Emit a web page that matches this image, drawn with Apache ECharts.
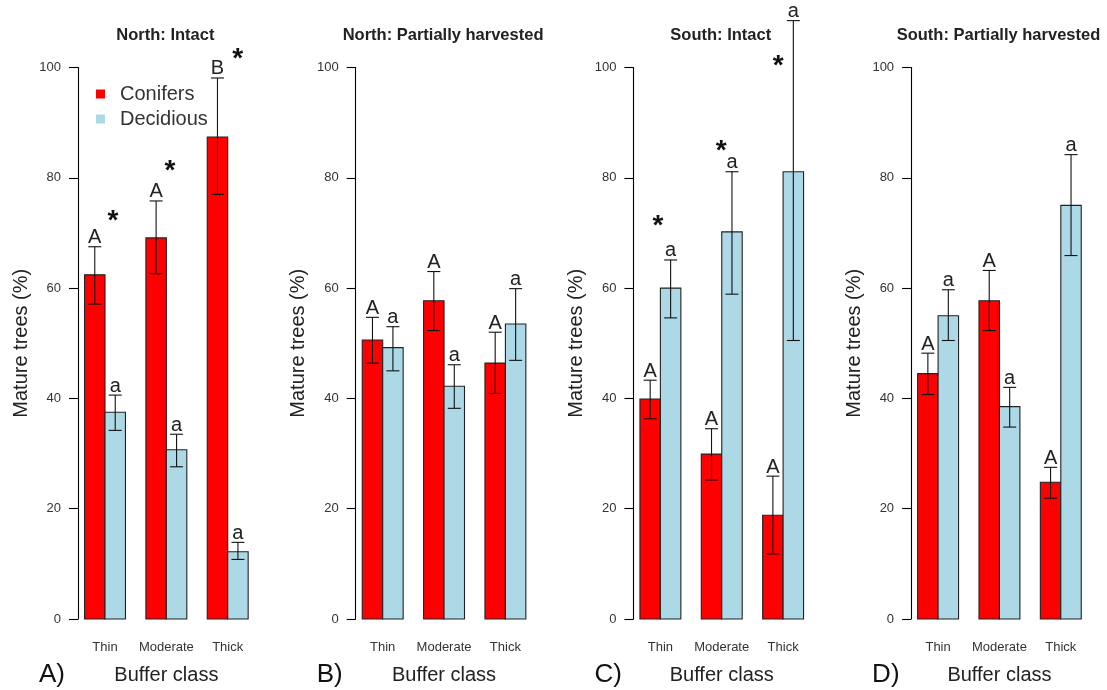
<!DOCTYPE html>
<html>
<head>
<meta charset="utf-8">
<script src="https://cdn.jsdelivr.net/npm/echarts@6/dist/echarts.min.js"></script>
<style>html,body{margin:0;padding:0;background:#fff}#c{width:1107px;height:690px}</style>
</head>
<body>
<div id="c"></div>
<script>
// ---------- data ----------
const categories = ['Thin', 'Moderate', 'Thick'];
const panelTitles = ['North: Intact', 'North: Partially harvested', 'South: Intact', 'South: Partially harvested'];
const panelLetters = ['A)', 'B)', 'C)', 'D)'];
const seriesNames = ['Conifers', 'Decidious'];
const yTicks = [0, 20, 40, 60, 80, 100];

// means
const northIntactConifers   = [62.4, 69.1, 87.4];
const northIntactDeciduous  = [37.5, 30.7, 12.2];
const northHarvConifers     = [50.6, 57.7, 46.4];
const northHarvDeciduous    = [49.2, 42.2, 53.5];
const southIntactConifers   = [39.9, 29.9, 18.8];
const southIntactDeciduous  = [60.0, 70.2, 81.1];
const southHarvConifers     = [44.5, 57.7, 24.8];
const southHarvDeciduous    = [55.0, 38.5, 75.0];

// error bar bounds (lower, upper)
const northIntactConifersLo  = [57.1, 62.6, 77.0];
const northIntactConifersHi  = [67.5, 75.8, 98.1];
const northIntactDeciduousLo = [34.2, 27.6, 10.8];
const northIntactDeciduousHi = [40.6, 33.5, 13.9];
const northHarvConifersLo    = [46.4, 52.3, 40.9];
const northHarvConifersHi    = [54.7, 63.0, 52.0];
const northHarvDeciduousLo   = [45.0, 38.2, 46.9];
const northHarvDeciduousHi   = [53.0, 46.1, 59.9];
const southIntactConifersLo  = [36.3, 25.2, 11.8];
const southIntactConifersHi  = [43.3, 34.5, 25.9];
const southIntactDeciduousLo = [54.6, 58.9, 50.5];
const southIntactDeciduousHi = [65.1, 81.1, 108.5];
const southHarvConifersLo    = [40.7, 52.3, 21.9];
const southHarvConifersHi    = [48.2, 63.2, 27.5];
const southHarvDeciduousLo   = [50.5, 34.8, 65.9];
const southHarvDeciduousHi   = [59.7, 42.0, 84.2];

// significance letters
const northIntactConiferLetters = ['A', 'A', 'B'];
const otherConiferLetters       = ['A', 'A', 'A'];
const deciduousLetters          = ['a', 'a', 'a'];

// asterisk annotations (data coordinates: bar-unit x, value y)
const northIntactAsterisks = [[2.39, 73.2], [5.18, 82.2], [8.49, 102.5]];
const southIntactAsterisks = [[1.88, 72.3], [4.97, 85.9], [7.76, 101.3]];

// ---------- assembly ----------
const panels = [
  { con: northIntactConifers, conLo: northIntactConifersLo, conHi: northIntactConifersHi, conL: northIntactConiferLetters,
    dec: northIntactDeciduous, decLo: northIntactDeciduousLo, decHi: northIntactDeciduousHi, ast: northIntactAsterisks },
  { con: northHarvConifers, conLo: northHarvConifersLo, conHi: northHarvConifersHi, conL: otherConiferLetters,
    dec: northHarvDeciduous, decLo: northHarvDeciduousLo, decHi: northHarvDeciduousHi, ast: [] },
  { con: southIntactConifers, conLo: southIntactConifersLo, conHi: southIntactConifersHi, conL: otherConiferLetters,
    dec: southIntactDeciduous, decLo: southIntactDeciduousLo, decHi: southIntactDeciduousHi, ast: southIntactAsterisks },
  { con: southHarvConifers, conLo: southHarvConifersLo, conHi: southHarvConifersHi, conL: otherConiferLetters,
    dec: southHarvDeciduous, decLo: southHarvDeciduousLo, decHi: southHarvDeciduousHi, ast: [] }
];

const FONT = "'Liberation Sans', Arial, Helvetica, sans-serif";
const COLORS = ['#FF0000', '#ADD8E6'];
const GRID_LEFT0 = 78, GRID_STEP = 277.7, GRID_W = 176.7, GRID_TOP = 67.5, GRID_H = 553;
const groupCenter = i => 2 + 3 * i;

function barRenderer(letters) {
  return function (params, api) {
    const x = api.value(0), m = api.value(1), lo = api.value(2), hi = api.value(3);
    const p0 = api.coord([x - 0.5, m]);
    const p1 = api.coord([x + 0.5, 0]);
    const t = api.coord([x, hi]);
    const b = api.coord([x, lo]);
    const cap = 6.5;
    const ls = { stroke: '#111', lineWidth: 1.1 };
    return {
      type: 'group',
      children: [
        { type: 'rect', shape: { x: p0[0], y: p0[1], width: p1[0] - p0[0], height: p1[1] - p0[1] },
          style: { fill: api.visual('color'), stroke: '#222', lineWidth: 1.1 } },
        { type: 'line', shape: { x1: t[0], y1: t[1], x2: b[0], y2: b[1] }, style: ls },
        { type: 'line', shape: { x1: t[0] - cap, y1: t[1], x2: t[0] + cap, y2: t[1] }, style: ls },
        { type: 'line', shape: { x1: b[0] - cap, y1: b[1], x2: b[0] + cap, y2: b[1] }, style: ls },
        { type: 'text', x: t[0], y: t[1] + 1,
          style: { text: letters[params.dataIndex], fontSize: 20, fontFamily: FONT, fill: '#222',
                   align: 'center', verticalAlign: 'bottom' } }
      ]
    };
  };
}

function asteriskRenderer(params, api) {
  const p = api.coord([api.value(0), api.value(1)]);
  return { type: 'text', x: p[0], y: p[1] + 6,
    style: { text: '*', fontSize: 28, fontWeight: 'bold', fontFamily: FONT, fill: '#111',
             align: 'center', verticalAlign: 'middle' } };
}

const grids = [], xAxes = [], yAxes = [], series = [], graphics = [];
panels.forEach((p, i) => {
  const left = GRID_LEFT0 + i * GRID_STEP;
  grids.push({ left: left, top: GRID_TOP, width: GRID_W, height: GRID_H, containLabel: false });
  xAxes.push({
    gridIndex: i, type: 'value', min: 0.68, max: 9.32,
    axisLine: { show: false }, axisTick: { show: false }, splitLine: { show: false },
    axisLabel: { customValues: categories.map((c, k) => groupCenter(k)),
      formatter: v => categories[Math.round((v - 2) / 3)], margin: 22, fontSize: 13, color: '#333', fontFamily: FONT },
    name: 'Buffer class', nameLocation: 'middle', nameGap: 46,
    nameTextStyle: { fontSize: 20, color: '#222', fontFamily: FONT }
  });
  yAxes.push({
    gridIndex: i, type: 'value', min: 0, max: 100, interval: 20,
    axisLine: { show: true, lineStyle: { color: '#000', width: 1.1 } },
    axisTick: { show: true, length: 9, lineStyle: { color: '#000', width: 1.1 } },
    axisLabel: { fontSize: 13, color: '#333', margin: 17, fontFamily: FONT },
    splitLine: { show: false },
    name: 'Mature trees (%)', nameLocation: 'middle', nameGap: 47,
    nameTextStyle: { fontSize: 20, color: '#222', fontFamily: FONT }
  });
  const groups = [
    { vals: p.con, lo: p.conLo, hi: p.conHi, letters: p.conL, off: -0.5 },
    { vals: p.dec, lo: p.decLo, hi: p.decHi, letters: deciduousLetters, off: 0.5 }
  ];
  groups.forEach((g, s) => {
    series.push({
      type: 'custom', name: seriesNames[s], xAxisIndex: i, yAxisIndex: i,
      itemStyle: { color: COLORS[s] }, clip: false, z: 2 + s,
      encode: { x: 0, y: 1 },
      data: g.vals.map((v, k) => [groupCenter(k) + g.off, v, g.lo[k], g.hi[k]]),
      renderItem: barRenderer(g.letters)
    });
  });
  if (p.ast.length) {
    series.push({
      type: 'custom', name: 'sig' + i, xAxisIndex: i, yAxisIndex: i, clip: false, z: 5,
      encode: { x: 0, y: 1 }, data: p.ast, renderItem: asteriskRenderer
    });
  }
  graphics.push({ type: 'text', x: left + GRID_W / 2 - 1, y: 35,
    style: { text: panelTitles[i], fontSize: 16.5, fontWeight: 'bold', fontFamily: FONT, fill: '#222',
             align: 'center', verticalAlign: 'middle' } });
  graphics.push({ type: 'text', x: left - 39, y: 675,
    style: { text: panelLetters[i], fontSize: 26, fontFamily: FONT, fill: '#111',
             align: 'left', verticalAlign: 'middle' } });
});

const chart = echarts.init(document.getElementById('c'), null, { renderer: 'canvas' });
chart.setOption({
  animation: false,
  backgroundColor: '#fff',
  textStyle: { fontFamily: FONT },
  grid: grids, xAxis: xAxes, yAxis: yAxes, series: series,
  legend: {
    data: seriesNames, left: 91, top: 79, orient: 'vertical', icon: 'rect',
    itemWidth: 9, itemHeight: 9, itemGap: 5, selectedMode: false,
    textStyle: { fontSize: 20, color: '#333', lineHeight: 20, padding: [0, 0, 0, 10], fontFamily: FONT }
  },
  graphic: graphics
});
</script>
</body>
</html>
